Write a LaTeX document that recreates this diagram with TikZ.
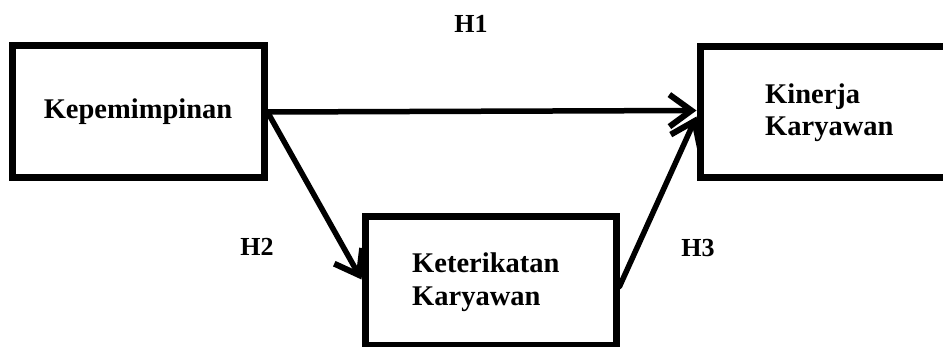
\documentclass[tikz,border=0pt]{standalone}
\usepackage{fontspec}
\setmainfont{Liberation Serif}
\usetikzlibrary{arrows.meta}
\begin{document}
\begin{tikzpicture}[x=1pt,y=-1pt,
  box/.style={draw, line width=7pt, rectangle, inner sep=0pt, font=\fontsize{28.5}{32.5}\selectfont\bfseries, align=left},
  txt/.style={inner sep=0pt, font=\fontsize{28.5}{32.5}\selectfont\bfseries, align=left},
  arr/.style={line width=5.5pt, -{Straight Barb[length=22pt,width=32pt,line width=6pt]}, line cap=round},
  lab/.style={font=\fontsize{26}{30}\selectfont\bfseries, inner sep=0pt}]
\clip (0,0) rectangle (943,347);
\fill[white] (0,0) rectangle (943,347);
\node[box, minimum width=252pt, minimum height=132pt] (k1) at (138,112) {Kepemimpinan};
\node[box, minimum width=300pt, minimum height=131pt] (k2) at (850,112.5) {};
\node[txt, anchor=west] (k2t) at (765,112.5) {Kinerja\\Karyawan};
\node[box, minimum width=251pt, minimum height=129pt] (k3) at (490.5,281.5) {};
\node[txt, anchor=west] (k3t) at (412,282) {Keterikatan\\Karyawan};
\coordinate (h1end) at ([yshift=2pt]k2.west);
\coordinate (h3end) at ([yshift=-4pt]k2.west);
\draw[arr] (k1.east) -- (h1end);
\draw[arr] (k1.east) -- ([yshift=2pt]k3.west);
\draw[arr] ([yshift=-5pt]k3.east) -- (h3end);
\node[lab] (h1) at (471,24) {H1};
\node[lab] (h2) at (257,247) {H2};
\node[lab] (h3) at (698,248) {H3};
\end{tikzpicture}
\end{document}
